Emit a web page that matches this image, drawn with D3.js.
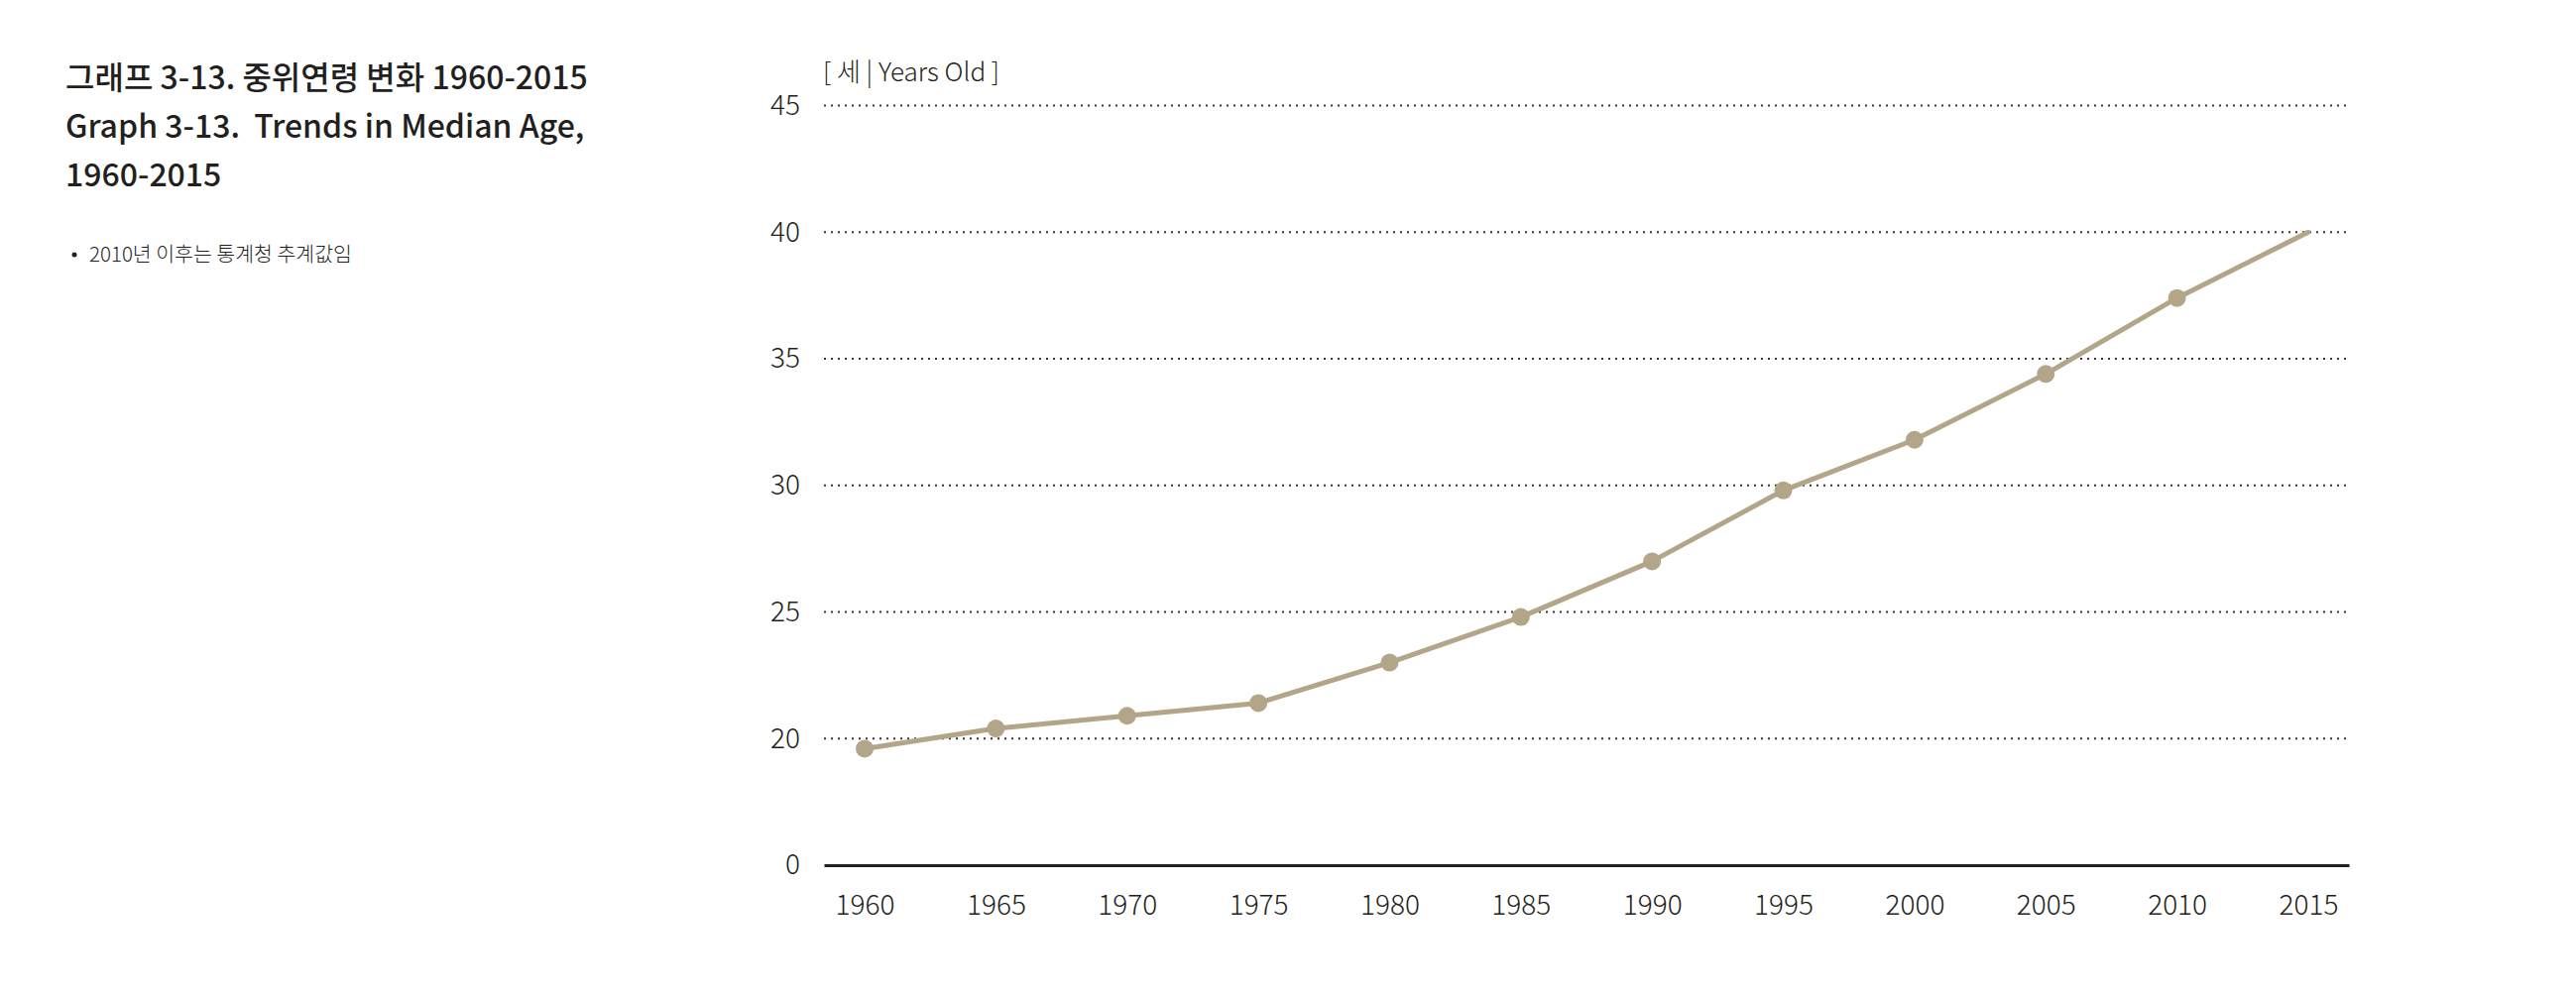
<!DOCTYPE html>
<html>
<head>
<meta charset="utf-8">
<script src="https://cdn.jsdelivr.net/npm/d3@7/dist/d3.min.js"></script>
<style>
  body { margin: 0; background: #fff; }
  text { font-family: "Noto Sans CJK KR", "Noto Sans", sans-serif; fill: #231f20; }
</style>
</head>
<body>
<svg id="chart" width="2598" height="1004"></svg>
<script>
// data
var years = [1960, 1965, 1970, 1975, 1980, 1985, 1990, 1995, 2000, 2005, 2010, 2015];
var medianAge = [19.6, 20.4, 20.9, 21.4, 23.0, 24.8, 27.0, 29.8, 31.8, 34.4, 37.4, 40.0];
var yTicks = [0, 20, 25, 30, 35, 40, 45];
var titleLines = ['그래프 3-13. 중위연령 변화 1960-2015', 'Graph 3-13.  Trends in Median Age,', '1960-2015'];
var note = '2010년 이후는 통계청 추계값임';
var unitLabel = '[ 세 | Years Old ]';

var lineColor = '#b3a588';

var svg = d3.select('#chart');

// 제목
svg.append('g').selectAll('text').data(titleLines).enter().append('text')
  .attr('x', 66)
  .attr('y', function(d, i) { return 78 + i * 49; })
  .attr('dy', '0.36em')
  .attr('font-size', 32)
  .attr('font-weight', 500)
  .style('white-space', 'pre')
  .text(function(d) { return d; });

// 주석
svg.append('circle')
  .attr('cx', 75).attr('cy', 257).attr('r', 2.5)
  .attr('fill', '#231f20');
svg.append('text')
  .attr('x', 90).attr('y', 257).attr('dy', '0.36em')
  .attr('font-size', 20.5)
  .attr('font-weight', 300)
  .text(note);

// scales (0~15 구간은 생략된 축)
var x = d3.scalePoint().domain(years).range([831, 2369]).padding(0.31);
var y = d3.scaleLinear().domain([0, 15, 45]).range([873, 873, 106.5]);

// 단위
svg.append('text')
  .attr('x', 830).attr('y', 73).attr('dy', '0.36em')
  .attr('font-size', 26)
  .attr('font-weight', 300)
  .text(unitLabel);

// y axis + grid
var yAxis = svg.append('g')
  .attr('transform', 'translate(831,0)')
  .call(d3.axisLeft(y).tickValues(yTicks).tickSize(0).tickPadding(24));
yAxis.select('.domain').remove();
yAxis.selectAll('text')
  .attr('font-size', 28)
  .attr('font-weight', 300)
  .attr('fill', '#231f20')
  .style('font-family', '"Noto Sans CJK KR", sans-serif');

svg.append('g').selectAll('line').data(yTicks.filter(function(d) { return d > 0; })).enter().append('line')
  .attr('x1', 831).attr('x2', 2369)
  .attr('y1', function(d) { return y(d); })
  .attr('y2', function(d) { return y(d); })
  .attr('stroke', '#3a3335')
  .attr('stroke-width', 2)
  .attr('stroke-dasharray', '2 5');

// x axis
var xAxis = svg.append('g')
  .attr('transform', 'translate(0,' + y(0) + ')')
  .call(d3.axisBottom(x).tickSize(0).tickPadding(30));
xAxis.select('.domain')
  .attr('stroke', '#231f20')
  .attr('stroke-width', 3);
xAxis.selectAll('text')
  .attr('font-size', 28)
  .attr('font-weight', 300)
  .attr('fill', '#231f20')
  .style('font-family', '"Noto Sans CJK KR", sans-serif');

// line
var pts = years.map(function(d, i) { return [d, medianAge[i]]; });
svg.append('path')
  .datum(pts)
  .attr('d', d3.line()
    .x(function(d) { return x(d[0]); })
    .y(function(d) { return y(d[1]); }))
  .attr('fill', 'none')
  .attr('stroke', lineColor)
  .attr('stroke-width', 5)
  .attr('stroke-linecap', 'round')
  .attr('stroke-linejoin', 'round');

// markers (2015 제외)
svg.append('g').selectAll('circle').data(pts.slice(0, pts.length - 1)).enter().append('circle')
  .attr('cx', function(d) { return x(d[0]); })
  .attr('cy', function(d) { return y(d[1]); })
  .attr('r', 9)
  .attr('fill', lineColor);
</script>
</body>
</html>
